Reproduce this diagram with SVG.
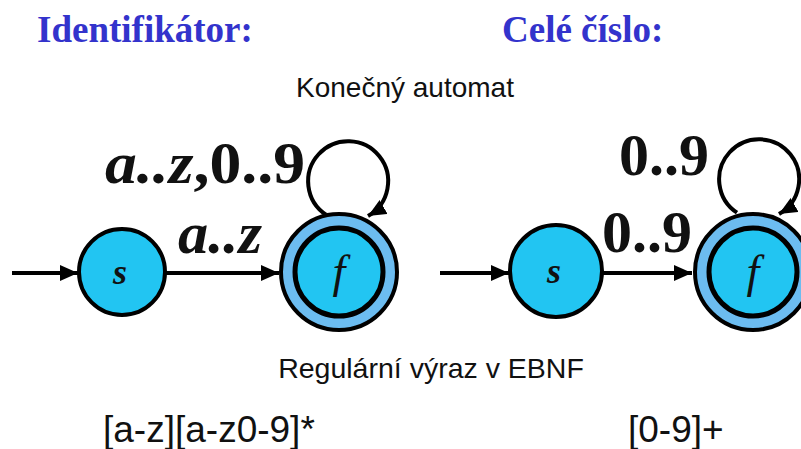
<svg xmlns="http://www.w3.org/2000/svg" width="801" height="449" viewBox="0 0 801 449">
<style>
.title{font-family:"Liberation Serif",serif;font-weight:bold;font-size:37px;fill:#3333cc}
.sans{font-family:"Liberation Sans",Arial,sans-serif;fill:#111}
.lbl{font-family:"Liberation Serif",serif;font-weight:bold;font-size:60px;fill:#111}
.it{font-style:italic}
.st{fill:#22c5f2;stroke:#000;stroke-width:4}
.ring{fill:#6cbcf0;stroke:#000;stroke-width:4}
.inner{fill:#22c5f2;stroke:#000;stroke-width:5}
.nl{font-family:"Liberation Serif",serif;font-weight:bold;font-style:italic;font-size:36px;fill:#111;text-anchor:middle}
.fl{font-family:"Liberation Serif",serif;font-style:italic;font-size:46px;fill:#111;text-anchor:middle}
.edge{fill:none;stroke:#000;stroke-width:4}
</style>
<defs>
<marker id="ah" markerUnits="userSpaceOnUse" markerWidth="20" markerHeight="16" refX="18" refY="8" orient="auto">
<path d="M0,0 L18,8 L0,16 Z" fill="#000"/>
</marker>
</defs>
<rect width="801" height="449" fill="#fff"/>
<text class="title" x="37" y="42">Identifikátor:</text>
<text class="title" x="502" y="42">Celé číslo:</text>
<text class="sans" x="405" y="97" font-size="28" text-anchor="middle">Konečný automat</text>
<text class="sans" x="431" y="378" font-size="28.5" text-anchor="middle">Regulární výraz v EBNF</text>
<text class="sans" x="103" y="442" font-size="37">[a-z][a-z0-9]*</text>
<text class="sans" x="628" y="442" font-size="37">[0-9]+</text>
<g id="connectors">
<path class="edge" d="M12,273 L78,273" marker-end="url(#ah)"/>
<path class="edge" d="M166,273 L279,273" marker-end="url(#ah)"/>
<path class="edge" d="M326,214.6 A40,40 0 1 1 368,216" marker-end="url(#ah)"/>
<path class="edge" d="M440,273 L509,273" marker-end="url(#ah)"/>
<path class="edge" d="M603,273 L692,273" marker-end="url(#ah)"/>
<path class="edge" d="M737,212.6 A40,40 0 1 1 779,214" marker-end="url(#ah)"/>
</g>
<g id="labels">
<text class="lbl" x="105" y="183" textLength="200" lengthAdjust="spacingAndGlyphs"><tspan class="it">a..z</tspan>,0..9</text>
<text class="lbl it" x="178" y="253" textLength="84" lengthAdjust="spacingAndGlyphs">a..z</text>
<text class="lbl" x="619" y="175">0..9</text>
<text class="lbl" x="602" y="252">0..9</text>
</g>
<g id="s1">
<circle class="st" cx="122" cy="272" r="43"/>
<text class="nl" x="120" y="284">s</text>
</g>
<g id="f1">
<circle class="ring" cx="339" cy="272" r="58"/>
<circle class="inner" cx="339" cy="272" r="44"/>
<text class="fl" x="339" y="287">f</text>
</g>
<g id="s2">
<circle class="st" cx="556" cy="271" r="46"/>
<text class="nl" x="554" y="283">s</text>
</g>
<g id="f2">
<circle class="ring" cx="753" cy="272" r="58"/>
<circle class="inner" cx="753" cy="272" r="44"/>
<text class="fl" x="753" y="287">f</text>
</g>
</svg>
